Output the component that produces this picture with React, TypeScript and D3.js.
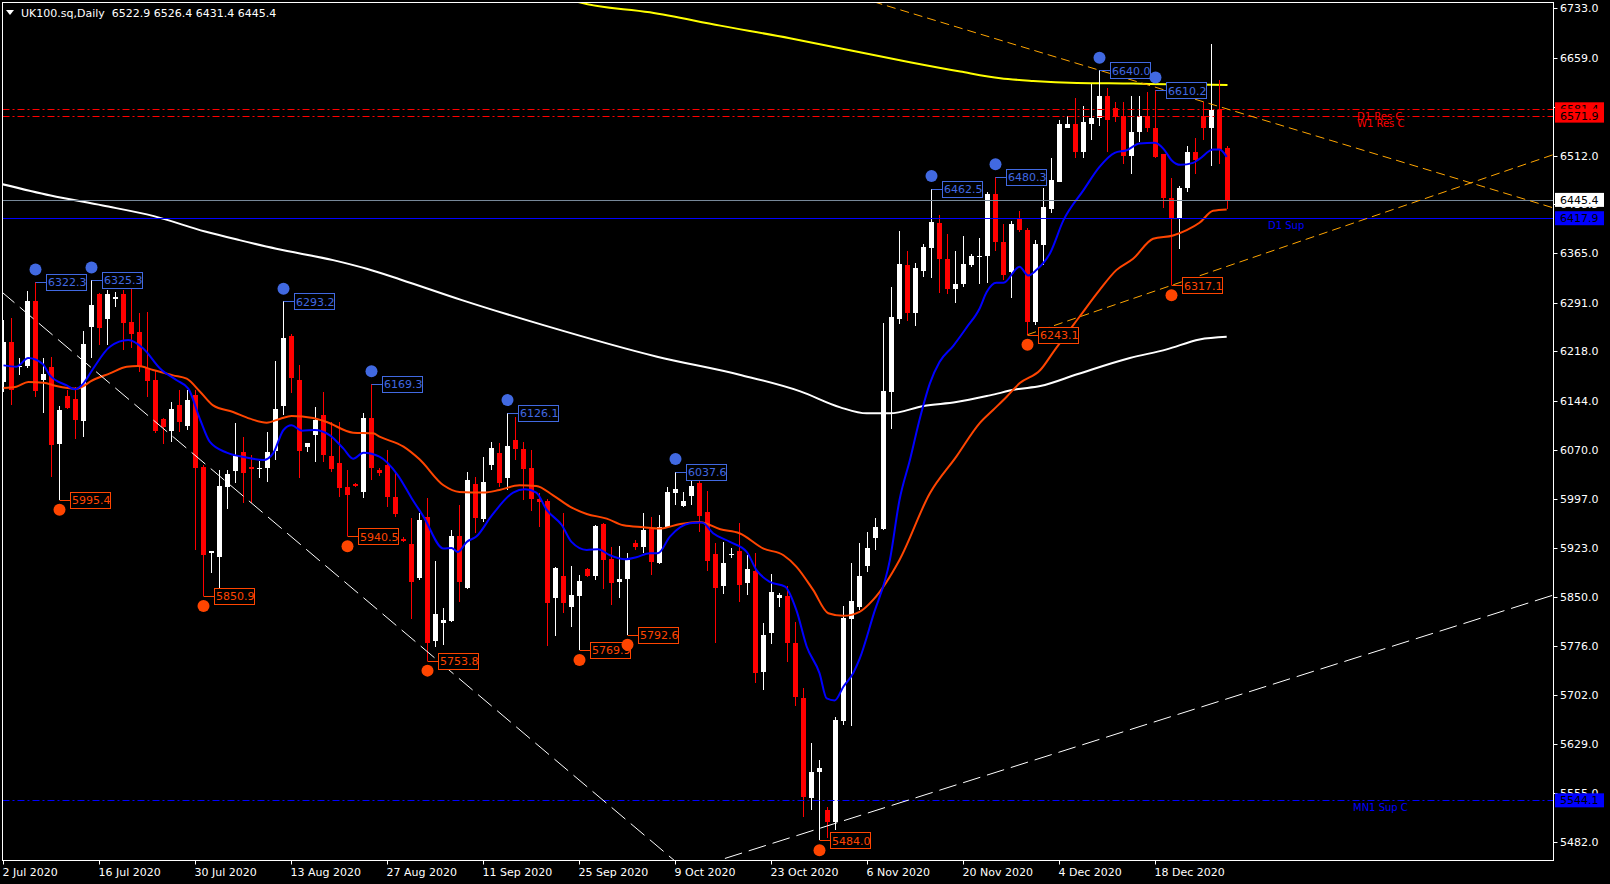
import * as d3 from 'd3';

const W = 1610;
const H = 884;
const LEFT = 2.5;
const TOP = 2.5;
const RIGHT = 1553.5;
const BOTTOM = 860.5;

const symbolTitle = 'UK100.sq,Daily';
const lastOHLC = [6522.9, 6526.4, 6431.4, 6445.4];

// daily bars, oldest first: [open, high, low, close]
const bars: [number, number, number, number][] = [
  [6172, 6265, 6157, 6232], [6232, 6268, 6138, 6160], [6194, 6208, 6182, 6196], [6196, 6308, 6193, 6293],
  [6293, 6322.3, 6149, 6158], [6175, 6208, 6125, 6184], [6194, 6209, 6029, 6077], [6079, 6136, 5995.4, 6130],
  [6151, 6160, 6131, 6133], [6146, 6164, 6086, 6115], [6113, 6248, 6089, 6229], [6254, 6325.3, 6208, 6287],
  [6304, 6305, 6227, 6253], [6266, 6310, 6227, 6304], [6296, 6307, 6284, 6299], [6304, 6310, 6220, 6260],
  [6262, 6317, 6223, 6244], [6247, 6275, 6187, 6196], [6193, 6277, 6149, 6173], [6175, 6190, 6095, 6098],
  [6116, 6118, 6079, 6104], [6098, 6142, 6082, 6131], [6137, 6160, 6097, 6112], [6106, 6160, 6100, 6145],
  [6152, 6160, 5920, 6043], [6044, 6047, 5850.9, 5912], [5915, 5918, 5885, 5918], [5909, 6040, 5860, 6016],
  [6014, 6040, 5981, 6034], [6038, 6110, 6020, 6062], [6067, 6089, 5990, 6035], [6044, 6062, 5990, 6041],
  [6041, 6053, 6028, 6043], [6043, 6097, 6022, 6067], [6068, 6203, 6055, 6131], [6136, 6293.2, 6122, 6238],
  [6241, 6244, 6155, 6178], [6175, 6197, 6028, 6068], [6074, 6081, 6067, 6080], [6092, 6134, 6052, 6115],
  [6122, 6157, 6052, 6062], [6061, 6112, 6037, 6041], [6050, 6112, 6000, 6013], [6014, 6040, 5940.5, 6002],
  [6019, 6020, 6014, 6016], [6007, 6125, 5998, 6118], [6118, 6169.3, 6025, 6043], [6040, 6043, 6031, 6035],
  [6047, 6070, 5984, 5999], [5999, 6035, 5969, 5974], [5936, 5939, 5932, 5933], [5929, 5968, 5816, 5872],
  [5878, 5975, 5875, 5965], [5969, 5998, 5753.8, 5780], [5783, 5903, 5774, 5824], [5810, 5833, 5777, 5815],
  [5813, 5950, 5812, 5941], [5941, 5987, 5842, 5872], [5863, 6037, 5862, 6025], [6019, 6029, 5945, 5968],
  [5966, 6059, 5962, 6022], [6047, 6082, 6040, 6073], [6065, 6080, 6014, 6020], [6028, 6126.1, 6010, 6076],
  [6085, 6119, 6055, 6071], [6071, 6082, 5995, 6041], [6043, 6070, 5978, 5996], [5996, 6005, 5954, 5992],
  [5993, 5996, 5776, 5840], [5848, 5894, 5791, 5893], [5881, 5975, 5825, 5840], [5834, 5896, 5804, 5852],
  [5851, 5882, 5769.9, 5873], [5891, 5893, 5879, 5881], [5881, 5957, 5875, 5956], [5959, 5960, 5861, 5905],
  [5906, 5924, 5837, 5870], [5872, 5926, 5848, 5876], [5876, 5915, 5792.6, 5905], [5930, 5935, 5920, 5924],
  [5924, 5975, 5915, 5950], [5951, 5969, 5882, 5902], [5900, 5972, 5899, 5954], [5954, 6014, 5953, 6007],
  [6005, 6037.6, 5987, 6011], [5986, 6007, 5984, 5993], [6001, 6028, 5987, 6016], [6020, 6028, 5947, 5971],
  [5977, 6008, 5888, 5903], [5914, 5930, 5780, 5863], [5866, 5932, 5854, 5900], [5912, 5923, 5908, 5914],
  [5918, 5960, 5842, 5867], [5870, 5912, 5852, 5891], [5888, 5915, 5720, 5735], [5737, 5810, 5710, 5792],
  [5795, 5884, 5779, 5857], [5848, 5855, 5834, 5852], [5851, 5866, 5752, 5780], [5780, 5812, 5686, 5699],
  [5698, 5713, 5519, 5549], [5548, 5630, 5530, 5587], [5587, 5605, 5484.0, 5593], [5530, 5534, 5488, 5512],
  [5512, 5669, 5500, 5665], [5663, 5836, 5657, 5818], [5816, 5900, 5656, 5843], [5834, 5930, 5830, 5881],
  [5896, 5947, 5887, 5923], [5938, 5968, 5920, 5954], [5951, 6260, 5950, 6158], [6157, 6314, 6101, 6269],
  [6266, 6398, 6259, 6349], [6347, 6368, 6263, 6275], [6275, 6350, 6256, 6343], [6338, 6379, 6329, 6374],
  [6373, 6462.5, 6328, 6412], [6410, 6422, 6305, 6356], [6356, 6394, 6304, 6311], [6311, 6368, 6290, 6319],
  [6319, 6391, 6314, 6349], [6347, 6364, 6344, 6361], [6359, 6388, 6319, 6361], [6361, 6457, 6320, 6455],
  [6455, 6480.3, 6368, 6382], [6382, 6409, 6325, 6332], [6337, 6413, 6298, 6409], [6416, 6428, 6397, 6400],
  [6400, 6403, 6243.1, 6262], [6262, 6385, 6257, 6379], [6377, 6464, 6347, 6434], [6431, 6508, 6425, 6475],
  [6473, 6565, 6472, 6560], [6554, 6571, 6554, 6559], [6559, 6598, 6509, 6517], [6517, 6586, 6509, 6562],
  [6560, 6620, 6536, 6568], [6568, 6640.0, 6557, 6601], [6601, 6613, 6518, 6566], [6583, 6592, 6562, 6571],
  [6572, 6593, 6500, 6511], [6511, 6602, 6485, 6547], [6547, 6601, 6532, 6571], [6571, 6607, 6547, 6554],
  [6554, 6610.2, 6509, 6510], [6514, 6515, 6433, 6448], [6448, 6479, 6317.1, 6418], [6418, 6467, 6371, 6463],
  [6463, 6526, 6457, 6518], [6517, 6538, 6485, 6505], [6571, 6592, 6535, 6554], [6553, 6679, 6497, 6581],
  [6581, 6625, 6499, 6521], [6522.9, 6526.4, 6431.4, 6445.4],
];

const dateLabels = ['2 Jul 2020', '16 Jul 2020', '30 Jul 2020', '13 Aug 2020', '27 Aug 2020', '11 Sep 2020',
  '25 Sep 2020', '9 Oct 2020', '23 Oct 2020', '6 Nov 2020', '20 Nov 2020', '4 Dec 2020', '18 Dec 2020'];
const dateBars = [0, 12, 24, 36, 48, 60, 72, 84, 96, 108, 120, 132, 144];

const priceTicks = [6733.0, 6659.0, 6585.5, 6512.0, 6438.5, 6365.0, 6291.0, 6218.0, 6144.0, 6070.0,
  5997.0, 5923.0, 5850.0, 5776.0, 5702.0, 5629.0, 5555.0, 5482.0];

// fractal swing points: [bar, price]
const swingHighs: [number, number][] = [[4, 6322.3], [11, 6325.3], [35, 6293.2], [46, 6169.3], [63, 6126.1],
  [84, 6037.6], [116, 6462.5], [124, 6480.3], [137, 6640.0], [144, 6610.2]];
const swingLows: [number, number][] = [[7, 5995.4], [25, 5850.9], [43, 5940.5], [53, 5753.8], [72, 5769.9],
  [78, 5792.6], [102, 5484.0], [128, 6243.1], [146, 6317.1]];

// moving averages: [bar, price]
const maBlue: [number, number][] = [
  [0, 6197], [1.6, 6195], [3.1, 6208], [4.9, 6199], [5.8, 6182], [7.9, 6167], [8.9, 6161], [10, 6170],
  [11.2, 6192], [13.3, 6225], [15.6, 6235], [17.5, 6222], [19.6, 6192], [21.6, 6175], [23.1, 6162],
  [24.6, 6115], [25.8, 6082], [27.9, 6066], [30.2, 6059], [32.5, 6055], [33.7, 6065], [35, 6100],
  [36, 6107], [37.3, 6099], [38.9, 6100], [40.8, 6092], [42.5, 6072], [43.7, 6057], [45, 6066],
  [47, 6060], [49.3, 6032], [51, 5998], [52.5, 5970], [55, 5922], [56, 5923], [56.8, 5917], [57.9, 5932],
  [59.1, 5940], [61, 5971], [63.7, 6006], [65.2, 6011], [66.6, 6006], [67.9, 5980], [69.8, 5957],
  [71, 5932], [72.9, 5920], [74.3, 5921], [75.8, 5912], [77.7, 5906], [79.1, 5909], [80.8, 5915],
  [81.8, 5915], [83.3, 5940], [85.8, 5960], [87.3, 5961], [88.7, 5945], [90.8, 5932], [92.9, 5917],
  [94.1, 5890], [95.8, 5872], [97.7, 5865], [99.1, 5830], [100.4, 5775], [102, 5735], [102.9, 5697],
  [103.9, 5694], [105, 5715], [106.2, 5735], [107, 5756], [108.7, 5821], [110.8, 5905], [112, 5995],
  [113.3, 6055], [114.6, 6120], [115.8, 6170], [117, 6202], [118.7, 6226], [120.4, 6254], [122, 6282],
  [122.9, 6307], [124.1, 6321], [125, 6321], [127, 6345], [128.1, 6332], [129.1, 6340], [130.8, 6365],
  [132.5, 6415], [135, 6460], [137, 6495], [138.9, 6516], [140.4, 6520], [142, 6530], [143.9, 6531],
  [145, 6522], [146, 6505], [147.1, 6498], [148.7, 6501], [149.5, 6507], [151.2, 6521], [152, 6521],
  [152.9, 6510],
];
const maOrange: [number, number][] = [
  [0, 6163], [1.6, 6165], [3.1, 6172], [5, 6171], [6.6, 6166], [9.1, 6162], [11.2, 6175], [13.3, 6185],
  [15.4, 6195], [16.8, 6196], [18.7, 6190], [21.2, 6182], [22.9, 6177], [24.6, 6157], [26.2, 6137],
  [28.7, 6127], [30.8, 6117], [32.9, 6111], [34.6, 6117], [36, 6121], [38.7, 6118], [40.4, 6112],
  [43.7, 6096], [46.2, 6095], [47, 6090], [50, 6075], [52, 6056], [55, 6017], [57, 6007], [60, 6006],
  [62, 6010], [64.5, 6017], [66.6, 6016], [68.7, 6002], [70.8, 5985], [72.9, 5974], [75.4, 5967],
  [77.5, 5957], [80, 5954], [82, 5952], [84.6, 5959], [87, 5962], [89.6, 5951], [92, 5945], [95, 5922],
  [97.5, 5912], [99.1, 5895], [101.2, 5860], [103.1, 5825], [105, 5821], [107, 5827], [108.7, 5845],
  [112, 5905], [115.8, 6005], [119.1, 6060], [122, 6110], [123.7, 6130], [125.4, 6150], [127, 6170],
  [129.6, 6190], [131.4, 6220], [134.5, 6270], [137, 6310], [139.1, 6340], [141.2, 6357], [143.7, 6387],
  [146.2, 6392], [147.9, 6400], [149.5, 6411], [151.2, 6429], [152.9, 6431],
];
const maWhite: [number, number][] = [
  [-0.5, 6470], [5.9, 6452], [12.4, 6437], [18.8, 6421], [25.2, 6398], [29.5, 6385], [34.1, 6372],
  [41.2, 6355], [45.4, 6342], [49.6, 6326], [57.3, 6295], [67.6, 6257], [81.7, 6210], [92, 6183],
  [99.6, 6158], [104.6, 6134], [107.9, 6125], [110.8, 6125], [115, 6136], [119.1, 6142], [123.3, 6152],
  [126.6, 6161], [129.6, 6166], [134.3, 6184], [140.8, 6208], [145.4, 6221], [149.5, 6236], [152.9, 6240],
];
const maYellow: [number, number][] = [
  [70, 6750], [72, 6742], [80.8, 6727], [89.6, 6707], [98.3, 6688], [105.8, 6670], [113.3, 6652],
  [119.6, 6638], [124.6, 6628], [128.7, 6624], [134.2, 6621], [141.2, 6620], [145.4, 6619], [153, 6618],
];

const levelNames = ['D1 Res C', 'W1 Res C', 'D1 Sup', 'MN1 Sup C'];
const levelPrices = [6581.4, 6571.9, 6417.9, 5544.1];
const lastPrice = 6445.4;

// trend lines as two anchor points [bar, price]
const trendWhiteDown: [number, number][] = [[0, 6305], [53, 5767]];
const trendWhiteUp: [number, number][] = [[102, 5502], [190, 5838]];
const trendOrangeDown: [number, number][] = [[137, 6640], [190, 6447]];
const trendOrangeUp: [number, number][] = [[128, 6243.1], [146, 6317.1]];

const FONT = 'DejaVu Sans, Verdana, sans-serif';
const BULL = '#ffffff';
const BEAR = '#ff0000';
const HI_COL = '#4169e1';
const LO_COL = '#ff4500';

const x = d3.scaleLinear().domain([0, 1]).range([3.5, 11.5]);
const y = d3.scaleLinear().domain([5482, 6733]).range([841.7, 8.3]);

function trendSegment(pts: [number, number][], ray: boolean) {
  const x1 = x(pts[0][0]);
  const y1 = y(pts[0][1]);
  const x2 = x(pts[1][0]);
  const y2 = y(pts[1][1]);
  const m = (y2 - y1) / (x2 - x1);
  const xa = ray ? x1 : LEFT - 40;
  const xb = RIGHT + 40;
  return { x1: xa, y1: y1 + m * (xa - x1), x2: xb, y2: y1 + m * (xb - x1) };
}

const levelStyle = [
  { color: '#ff0000', dash: '7,3,2,3', tx: 1357 },
  { color: '#ff0000', dash: '7,3,2,3', tx: 1357 },
  { color: '#0000ff', dash: '', tx: 1268 },
  { color: '#0000ff', dash: '7,3,2,3', tx: 1353 },
];

export default function App() {
  const ma = d3.line<[number, number]>().x(d => x(d[0])).y(d => y(d[1])).curve(d3.curveMonotoneX);
  const trends = [
    { seg: trendSegment(trendWhiteDown, false), color: '#ffffff', dash: '18,7' },
    { seg: trendSegment(trendWhiteUp, false), color: '#ffffff', dash: '18,7' },
    { seg: trendSegment(trendOrangeDown, false), color: '#ffa500', dash: '9,5' },
    { seg: trendSegment(trendOrangeUp, true), color: '#ffa500', dash: '9,5' },
  ];
  const axisBoxes = [
    { v: levelPrices[0], fill: '#ff0000' },
    { v: levelPrices[1], fill: '#ff0000' },
    { v: lastPrice, fill: '#ffffff' },
    { v: levelPrices[2], fill: '#0000ff' },
    { v: levelPrices[3], fill: '#0000ff' },
  ];

  return (
    <svg width={W} height={H} style={{ position: 'fixed', left: 0, top: 0, background: '#000' }}
      fontFamily={FONT} fontSize={11}>
      <defs>
        <clipPath id="plot">
          <rect x={LEFT + 0.5} y={TOP + 0.5} width={RIGHT - LEFT - 1} height={BOTTOM - TOP - 1} />
        </clipPath>
      </defs>
      <rect width={W} height={H} fill="#000" />

      <g clipPath="url(#plot)">
        {/* long moving averages behind the candles */}
        <path d={ma(maWhite) ?? ''} fill="none" stroke="#ffffff" strokeWidth={2} />
        <path d={ma(maYellow) ?? ''} fill="none" stroke="#ffff00" strokeWidth={2} />

        {/* candles */}
        <g shapeRendering="crispEdges">
          {bars.map(([o, h, l, c], i) => {
            const col = c >= o ? BULL : BEAR;
            const top = y(Math.max(o, c));
            const hgt = Math.max(1, Math.abs(y(o) - y(c)));
            return (
              <g key={i}>
                <line x1={x(i)} x2={x(i)} y1={y(h)} y2={y(l)} stroke={col} strokeWidth={1} />
                <rect x={x(i) - 2.5} y={top} width={5} height={hgt} fill={col} />
              </g>
            );
          })}
        </g>

        <path d={ma(maOrange) ?? ''} fill="none" stroke="#ff4500" strokeWidth={2} />
        <path d={ma(maBlue) ?? ''} fill="none" stroke="#0000ff" strokeWidth={2} />

        {/* horizontal levels */}
        <line x1={LEFT} x2={RIGHT} y1={Math.round(y(lastPrice)) + 0.5} y2={Math.round(y(lastPrice)) + 0.5}
          stroke="#778899" strokeWidth={1} />
        {levelPrices.map((p, k) => {
          const yy = Math.round(y(p)) + 0.5;
          return (
            <g key={k}>
              <line x1={LEFT} x2={RIGHT} y1={yy} y2={yy} stroke={levelStyle[k].color}
                strokeWidth={1} strokeDasharray={levelStyle[k].dash || undefined} />
              <text x={levelStyle[k].tx} y={yy + 10} fill={levelStyle[k].color} fontSize={10}>
                {levelNames[k]}
              </text>
            </g>
          );
        })}

        {/* trend lines */}
        {trends.map((t, k) => (
          <line key={k} x1={t.seg.x1} y1={t.seg.y1} x2={t.seg.x2} y2={t.seg.y2}
            stroke={t.color} strokeWidth={1} strokeDasharray={t.dash} />
        ))}

        {/* swing high / low markers */}
        {swingHighs.map(([b, p], k) => {
          const cx = x(b);
          const cy = y(p);
          return (
            <g key={'h' + k}>
              <line x1={cx} x2={cx + 11} y1={Math.round(cy) + 0.5} y2={Math.round(cy) + 0.5} stroke={HI_COL} />
              <rect x={cx + 11} y={Math.round(cy) - 7.5} width={40} height={16} fill="#000" stroke={HI_COL} />
              <text x={cx + 12.5} y={cy + 4.5} fill={HI_COL}>{p.toFixed(1)}</text>
              <circle cx={cx} cy={cy - 12.5} r={6} fill={HI_COL} />
            </g>
          );
        })}
        {swingLows.map(([b, p], k) => {
          const cx = x(b);
          const cy = y(p);
          return (
            <g key={'l' + k}>
              <line x1={cx} x2={cx + 11} y1={Math.round(cy) + 0.5} y2={Math.round(cy) + 0.5} stroke={LO_COL} />
              <rect x={cx + 11} y={Math.round(cy) - 7.5} width={40} height={16} fill="#000" stroke={LO_COL} />
              <text x={cx + 12.5} y={cy + 4.5} fill={LO_COL}>{p.toFixed(1)}</text>
              <circle cx={cx} cy={cy + 10} r={6} fill={LO_COL} />
            </g>
          );
        })}
      </g>

      {/* frame */}
      <rect x={LEFT} y={TOP} width={RIGHT - LEFT} height={BOTTOM - TOP} fill="none" stroke="#ffffff" />

      {/* price axis */}
      {priceTicks.map(t => (
        <g key={t}>
          <line x1={RIGHT} x2={RIGHT + 4} y1={Math.round(y(t)) + 0.5} y2={Math.round(y(t)) + 0.5} stroke="#fff" />
          <text x={1560} y={y(t) + 4} fill="#fff">{t.toFixed(1)}</text>
        </g>
      ))}
      {axisBoxes.map((b, k) => (
        <g key={k}>
          <rect x={1555} y={y(b.v) - 7} width={49} height={14} fill={b.fill} />
          <text x={1560} y={y(b.v) + 4} fill="#000">{b.v.toFixed(1)}</text>
        </g>
      ))}

      {/* time axis */}
      {dateBars.map((b, k) => (
        <g key={b}>
          <line x1={x(b)} x2={x(b)} y1={BOTTOM} y2={BOTTOM + 4} stroke="#fff" />
          <text x={x(b) - 1} y={876} fill="#fff">{dateLabels[k]}</text>
        </g>
      ))}

      {/* title */}
      <path d="M6,10 L14,10 L10,15 Z" fill="#fff" />
      <text x={21} y={17} fill="#fff" style={{ whiteSpace: 'pre' }}>
        {symbolTitle + '  ' + lastOHLC.map(v => v.toFixed(1)).join(' ')}
      </text>
    </svg>
  );
}
